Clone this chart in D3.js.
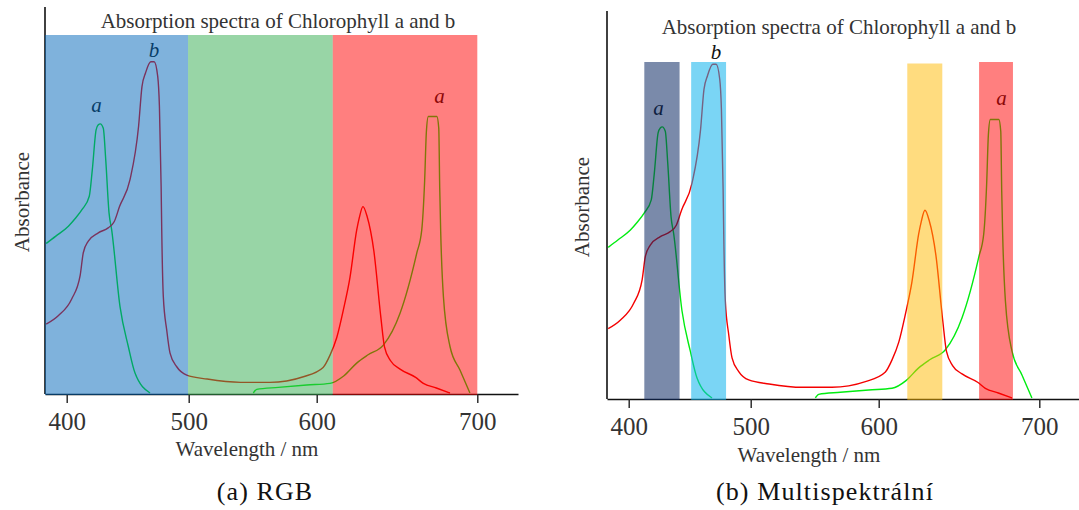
<!DOCTYPE html>
<html>
<head>
<meta charset="utf-8">
<script src="https://cdn.jsdelivr.net/npm/d3@7"></script>
<style>
  body { margin: 0; background: #fff; }
  svg text { font-family: "Liberation Serif", "Times New Roman", serif; }
</style>
</head>
<body>
<svg id="chart" width="1079" height="510"></svg>
<script>
// wavelength axis (nm) and tick labels
const wavelengthTicks = [400, 500, 600, 700];
const axisDomain = [382, 400, 500, 600, 700, 725];

// chlorophyll a, null = hidden under the baseline
const chlAWavelength = [383, 391, 401.4, 407, 412.8, 418.5, 421, 424.1, 425.9, 427.5, 430, 432, 434.7, 436.9, 443.7, 450.5, 456, 468.3,
  null,
  550.5, 553.1, 570, 592.2, 608.3, 617, 624.9, 632, 641.5, 651.9, 662.3, 665.4, 667.2, 668.3, 669.5, 674.8, 676, 676.6, 677.2, 678.9, 683, 689.2, 695.4];
const chlAAbsorbance = [0.453, 0.475, 0.505, 0.528, 0.556, 0.595, 0.675, 0.795, 0.81, 0.813, 0.80, 0.705, 0.545, 0.493, 0.263, 0.143, 0.063, 0.003,
  null,
  0.003, 0.014, 0.02, 0.027, 0.032, 0.055, 0.093, 0.118, 0.147, 0.243, 0.424, 0.493, 0.64, 0.79, 0.835, 0.835, 0.80, 0.62, 0.49, 0.293, 0.143, 0.072, 0.003];

// chlorophyll b
const chlBWavelength = [383, 393.2, 404.1, 411, 413.6, 417.7, 425.9, 434, 439, 443.3, 451.9, 458.9, 461.7, 464.6, 468.9, 471.7,
  474.6, 476, 477.4, 477.9, 479.2, 482, 484.7, 490.2, 498.4, 514.4, 540.5, 563.5, 589.6, 604, 608.3, 612.5, 616.6, 620.7, 624.9, 626.5,
  628.8, 631.4, 635.6, 639.9, 642.2, 646, 651.9, 661.6, 666.4, 674.5, 683];
const chlBAbsorbance = [0.21, 0.236, 0.286, 0.356, 0.425, 0.46, 0.485, 0.5, 0.519, 0.564, 0.645, 0.805, 0.925, 0.966, 1.0, 1.0,
  0.956, 0.865, 0.625, 0.493, 0.293, 0.192, 0.123, 0.082, 0.057, 0.045, 0.035, 0.035, 0.052, 0.08, 0.117, 0.17, 0.253, 0.35, 0.493, 0.53,
  0.564, 0.534, 0.43, 0.233, 0.142, 0.1, 0.075, 0.05, 0.032, 0.018, 0.003];

// peak labels
const peakLabels = ["a", "b", "a"];
const peakLabelWavelength = [424.5, 471.5, 676.5];
const peakLabelAbsorbance = [0.85, 1.015, 0.877];

// filter bands (nm)
const rgbBandStart = [382, 499.5, 610];
const rgbBandEnd = [499.5, 610, 700];
const msBandStart = [412.8, 451.2, 617.8, 662.5];
const msBandEnd = [441.7, 479.8, 639.6, 683.6];

const rgbBandColors = ["rgb(0,101,185)", "rgb(49,171,77)", "rgb(255,0,0)"];
const rgbBandOpacity = [0.5, 0.5, 0.5];
const msBandColors = ["rgb(13,42,100)", "rgb(13,178,237)", "rgb(255,185,0)", "rgb(255,0,0)"];
const msBandOpacity = [0.55, 0.55, 0.5, 0.5];

const title = "Absorption spectra of Chlorophyll a and b";

const svg = d3.select("#chart");

// axis spacing of the source plot is not linear, keep its pixel offsets
const axisOffsets = [0, 21.7, 143.7, 271.7, 432.3, 473];

function drawPanel(p) {
  let g = svg.append("g");

  let x = d3.scaleLinear()
    .domain(axisDomain)
    .range(axisOffsets.map(d => p.ox + d));

  let y = d3.scaleLinear()
    .domain([0, 1])
    .range([p.axisY, p.peakY]);

  // axes
  let xAxis = g.append("g")
    .attr("transform", `translate(0,${p.axisY})`)
    .call(d3.axisBottom(x).tickValues(wavelengthTicks).tickSize(9).tickSizeOuter(0).tickPadding(9).tickFormat(d3.format("d")));
  xAxis.select(".domain").attr("stroke", "#111").attr("stroke-width", 1.6);
  xAxis.selectAll(".tick line").attr("stroke", "#222").attr("stroke-width", 1.4);
  xAxis.selectAll(".tick text")
    .attr("font-size", 25)
    .attr("fill", "#333");

  g.append("line")
    .attr("x1", p.ox).attr("x2", p.ox)
    .attr("y1", p.axisTop).attr("y2", p.axisY)
    .attr("stroke", "#111")
    .attr("stroke-width", 1.6);

  // curves
  let line = d3.line()
    .defined(d => d[0] !== null)
    .curve(d3.curveMonotoneX)
    .x(d => x(d[0]))
    .y(d => y(d[1]));

  let chlA = d3.zip(chlAWavelength, chlAAbsorbance);
  let chlB = d3.zip(chlBWavelength, chlBAbsorbance);

  g.append("path")
    .datum(chlA)
    .attr("d", line)
    .attr("fill", "none")
    .attr("stroke", "#00ec10")
    .attr("stroke-width", 1.4);

  g.append("path")
    .datum(chlB)
    .attr("d", line)
    .attr("fill", "none")
    .attr("stroke", "#f40000")
    .attr("stroke-width", 1.4);

  // a / b labels
  g.selectAll(".peak")
    .data(peakLabels)
    .enter().append("text")
    .attr("class", "peak")
    .attr("x", (d, i) => x(peakLabelWavelength[i]))
    .attr("y", (d, i) => y(peakLabelAbsorbance[i]))
    .attr("text-anchor", "middle")
    .attr("font-size", 21)
    .attr("font-style", "italic")
    .attr("fill", "#111")
    .text(d => d);

  // bands on top, so curves and labels are tinted like in the source
  g.selectAll(".band")
    .data(p.bandStart)
    .enter().append("rect")
    .attr("class", "band")
    .attr("x", d => x(d))
    .attr("width", (d, i) => x(p.bandEnd[i]) - x(d))
    .attr("y", (d, i) => p.bandTop[i])
    .attr("height", (d, i) => p.axisY + 1 - p.bandTop[i])
    .attr("fill", (d, i) => p.colors[i])
    .attr("fill-opacity", (d, i) => p.opacity[i]);

  // texts
  g.append("text")
    .attr("x", p.titleX).attr("y", p.titleY)
    .attr("text-anchor", "middle")
    .attr("font-size", 21)
    .attr("fill", "#333")
    .text(title);

  g.append("text")
    .attr("transform", `translate(${p.ylabX},${p.ylabY}) rotate(-90)`)
    .attr("text-anchor", "middle")
    .attr("font-size", 21)
    .attr("fill", "#333")
    .text("Absorbance");

  g.append("text")
    .attr("x", p.xlabX).attr("y", p.xlabY)
    .attr("text-anchor", "middle")
    .attr("font-size", 21)
    .attr("fill", "#333")
    .text("Wavelength / nm");

  g.append("text")
    .attr("x", p.capX).attr("y", 500)
    .attr("text-anchor", "middle")
    .attr("font-size", 26)
    .attr("letter-spacing", 1.1)
    .attr("fill", "#111")
    .text(p.caption);
}

drawPanel({
  ox: 45, axisY: 394, peakY: 61.7, axisTop: 7,
  bandStart: rgbBandStart, bandEnd: rgbBandEnd, bandTop: [35, 35, 35],
  colors: rgbBandColors, opacity: rgbBandOpacity,
  titleX: 278, titleY: 28, ylabX: 29, ylabY: 202, xlabX: 247, xlabY: 456,
  capX: 265, caption: "(a) RGB"
});

drawPanel({
  ox: 607, axisY: 399, peakY: 64.3, axisTop: 11,
  bandStart: msBandStart, bandEnd: msBandEnd, bandTop: [62, 62, 63.5, 62],
  colors: msBandColors, opacity: msBandOpacity,
  titleX: 839, titleY: 34, ylabX: 589, ylabY: 207, xlabX: 809, xlabY: 462,
  capX: 825, caption: "(b) Multispektrální"
});
</script>
</body>
</html>
